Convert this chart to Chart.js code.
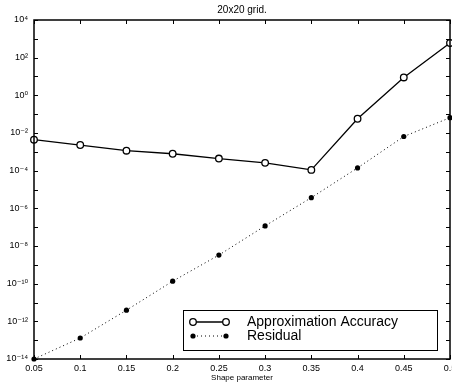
<!DOCTYPE html>
<html>
<head>
<meta charset="utf-8">
<script src="https://cdn.jsdelivr.net/npm/chart.js@4/dist/chart.umd.min.js"></script>
<style>
html,body{margin:0;padding:0;background:#fff;overflow:hidden;}
#wrap{position:relative;width:452px;height:389px;overflow:hidden;}
</style>
</head>
<body>
<div id="wrap"><canvas id="c" width="470" height="389"></canvas></div>
<script>
const titleText = '20x20 grid.';
const xTitle = 'Shape parameter';
const seriesNames = ['Approximation Accuracy', 'Residual'];
const xValues = [0.05, 0.1, 0.15, 0.2, 0.25, 0.3, 0.35, 0.4, 0.45, 0.5];
const accuracy = [4.4e-3, 2.3e-3, 1.15e-3, 7.9e-4, 4.4e-4, 2.6e-4, 1.1e-4, 5.7e-2, 8.9, 600];
const residual = [1e-14, 1.3e-13, 3.9e-12, 1.35e-10, 3.3e-9, 1.17e-7, 3.7e-6, 1.4e-4, 6.5e-3, 0.065];
const xTickValues = [0.05, 0.1, 0.15, 0.2, 0.25, 0.3, 0.35, 0.4, 0.45, 0.5];
const xTickLabels = ['0.05', '0.1', '0.15', '0.2', '0.25', '0.3', '0.35', '0.4', '0.45', '0.5'];
const yTickExponents = [4, 3, 2, 1, 0, -1, -2, -3, -4, -5, -6, -7, -8, -9, -10, -11, -12, -13, -14];
const yTickLabels = {4: '10⁴', 2: '10²', 0: '10⁰', '-2': '10⁻²', '-4': '10⁻⁴', '-6': '10⁻⁶', '-8': '10⁻⁸', '-10': '10⁻¹⁰', '-12': '10⁻¹²', '-14': '10⁻¹⁴'};

const FONT = '"Liberation Sans", Arial, "DejaVu Sans", sans-serif';

const framePlugin = {
  id: 'frame',
  afterDraw(chart) {
    const ctx = chart.ctx;
    const a = chart.chartArea;
    const xs = chart.scales.x, ys = chart.scales.y;
    ctx.save();
    ctx.strokeStyle = '#000';
    ctx.lineWidth = 1;
    ctx.beginPath();
    xs.ticks.forEach(t => {
      const px = Math.round(xs.getPixelForValue(t.value)) + 0.5;
      ctx.moveTo(px, a.bottom); ctx.lineTo(px, a.bottom - 4);
      ctx.moveTo(px, a.top); ctx.lineTo(px, a.top + 4);
    });
    ys.ticks.forEach(t => {
      const py = Math.round(ys.getPixelForValue(t.value)) + 0.5;
      ctx.moveTo(a.left, py); ctx.lineTo(a.left + 4, py);
      ctx.moveTo(a.right, py); ctx.lineTo(a.right - 4, py);
    });
    ctx.stroke();
    ctx.lineWidth = 1.5;
    ctx.strokeRect(a.left, a.top, a.right - a.left, a.bottom - a.top);

    // legend box
    const bx = a.left + 149, by = a.bottom - 49, bw = 254, bh = 40;
    ctx.fillStyle = '#fff';
    ctx.fillRect(bx, by, bw, bh);
    ctx.lineWidth = 1;
    ctx.strokeStyle = '#000';
    ctx.strokeRect(bx + 0.5, by + 0.5, bw, bh);
    const x1 = bx + 10, x2 = bx + 43;
    const y1 = by + 12, y2 = by + 26;
    const ds = chart.data.datasets;
    ctx.lineWidth = ds[0].borderWidth;
    ctx.setLineDash([]);
    ctx.beginPath(); ctx.moveTo(x1, y1); ctx.lineTo(x2, y1); ctx.stroke();
    [x1, x2].forEach(px => {
      ctx.beginPath(); ctx.arc(px, y1, ds[0].pointRadius, 0, Math.PI * 2);
      ctx.fillStyle = '#fff'; ctx.fill(); ctx.lineWidth = ds[0].pointBorderWidth; ctx.stroke();
    });
    ctx.lineWidth = ds[1].borderWidth;
    ctx.setLineDash(ds[1].borderDash);
    ctx.beginPath(); ctx.moveTo(x1, y2); ctx.lineTo(x2, y2); ctx.stroke();
    ctx.setLineDash([]);
    [x1, x2].forEach(px => {
      ctx.beginPath(); ctx.arc(px, y2, ds[1].pointRadius, 0, Math.PI * 2);
      ctx.fillStyle = '#000'; ctx.fill();
    });
    ctx.fillStyle = '#000';
    ctx.font = '14px ' + FONT;
    ctx.textBaseline = 'middle';
    ctx.textAlign = 'left';
    ctx.fillText(ds[0].label, bx + 64, y1);
    ctx.fillText(ds[1].label, bx + 64, y2);
    ctx.restore();
  }
};

new Chart(document.getElementById('c'), {
  type: 'line',
  data: {
    datasets: [
      {
        label: seriesNames[0],
        data: xValues.map((x, i) => ({x: x, y: accuracy[i]})),
        borderColor: '#000',
        borderWidth: 1.3,
        pointStyle: 'circle',
        pointRadius: 3.3,
        pointBackgroundColor: '#fff',
        pointBorderColor: '#000',
        pointBorderWidth: 1.3,
        tension: 0,
        clip: false
      },
      {
        label: seriesNames[1],
        data: xValues.map((x, i) => ({x: x, y: residual[i]})),
        borderColor: '#000',
        borderWidth: 1,
        borderDash: [1, 3],
        pointStyle: 'circle',
        pointRadius: 2.6,
        pointBackgroundColor: '#000',
        pointBorderColor: '#000',
        pointBorderWidth: 0,
        tension: 0,
        clip: false
      }
    ]
  },
  options: {
    responsive: false,
    animation: false,
    events: [],
    layout: { padding: { left: 0, right: 20, top: 0, bottom: 0 } },
    plugins: {
      legend: { display: false },
      tooltip: { enabled: false },
      title: {
        display: true,
        text: titleText,
        fullSize: false,
        color: '#000',
        font: { family: FONT, size: 10, weight: 'normal', lineHeight: 1.2 },
        padding: { top: 4, bottom: 4 }
      }
    },
    scales: {
      x: {
        type: 'linear',
        min: 0.05,
        max: 0.5,
        afterBuildTicks: s => { s.ticks = xTickValues.map(v => ({value: v})); },
        afterFit: s => { s.height = 30; s.paddingLeft = 0; s.paddingRight = 0; },
        grid: { display: false, drawTicks: false },
        border: { display: false },
        ticks: {
          autoSkip: false,
          maxRotation: 0,
          padding: 4,
          color: '#000',
          font: { family: FONT, size: 9 },
          callback: (v, i) => xTickLabels[i]
        },
        title: {
          display: true,
          text: xTitle,
          color: '#000',
          font: { family: FONT, size: 8 },
          padding: { top: 0, bottom: 6 }
        }
      },
      y: {
        type: 'logarithmic',
        min: 1e-14,
        max: 1e4,
        afterBuildTicks: s => { s.ticks = yTickExponents.map(e => ({value: Number('1e' + e)})); },
        afterFit: s => { s.width = 34; s.paddingTop = 0; s.paddingBottom = 0; },
        grid: { display: false, drawTicks: false },
        border: { display: false },
        ticks: {
          autoSkip: false,
          padding: 6,
          color: '#000',
          font: { family: FONT, size: 9 },
          callback: (v) => {
            const e = Math.round(Math.log10(v));
            return yTickLabels[e] !== undefined ? yTickLabels[e] : '';
          }
        }
      }
    }
  },
  plugins: [framePlugin]
});
</script>
</body>
</html>
